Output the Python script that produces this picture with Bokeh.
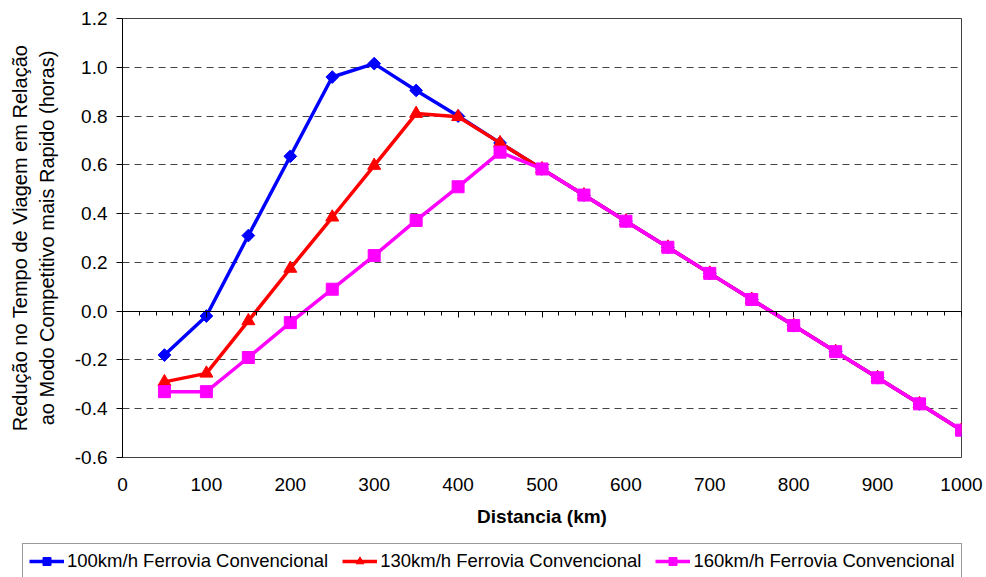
import numpy as np
from bokeh.plotting import figure
from bokeh.models import (Range1d, FixedTicker, LinearAxis, Legend, LegendItem,
                          PrintfTickFormatter, CustomJSTickFormatter)
from bokeh.embed import file_html
from bokeh.resources import INLINE

# ---------------- data ----------------
distance_km = [50, 100, 150, 200, 250, 300, 350, 400, 450, 500,
               550, 600, 650, 700, 750, 800, 850, 900, 950, 1000]

conv_100 = [-0.18, -0.02, 0.31, 0.635, 0.96, 1.015, 0.905, 0.80, 0.69, 0.583,
            0.476, 0.369, 0.262, 0.155, 0.048, -0.059, -0.166, -0.273, -0.38, -0.488]
conv_130 = [-0.29, -0.255, -0.04, 0.175, 0.385, 0.597, 0.81, 0.797, 0.69, 0.583,
            0.476, 0.369, 0.262, 0.155, 0.048, -0.059, -0.166, -0.273, -0.38, -0.488]
conv_160 = [-0.33, -0.33, -0.19, -0.047, 0.09, 0.228, 0.372, 0.51, 0.652, 0.583,
            0.476, 0.369, 0.262, 0.155, 0.048, -0.059, -0.166, -0.273, -0.38, -0.488]

series_names = ["100km/h Ferrovia Convencional",
                "130km/h Ferrovia Convencional",
                "160km/h Ferrovia Convencional"]

x_ticks = [0, 100, 200, 300, 400, 500, 600, 700, 800, 900, 1000]
x_minor_ticks = list(range(0, 1001, 20))
y_ticks = [-0.6, -0.4, -0.2, 0.0, 0.2, 0.4, 0.6, 0.8, 1.0, 1.2]

FONT = "Liberation Sans"
colors = ["#0000FF", "#FF0000", "#FF00FF"]

p = figure(frame_width=839, frame_height=439, output_backend="svg", toolbar_location=None,
           x_range=Range1d(0, 1000), y_range=Range1d(-0.6, 1.2),
           min_border_left=122, min_border_right=25, min_border_top=18,
           min_border_bottom=84, background_fill_color="white",
           border_fill_color="white")

p.outline_line_color = "#404040"
p.outline_line_width = 1
p.xgrid.visible = False
p.ygrid.ticker = FixedTicker(ticks=y_ticks)
p.ygrid.grid_line_color = "#444444"
p.ygrid.grid_line_dash = "7 5"
p.ygrid.grid_line_width = 1

# y axis
ya = p.yaxis[0]
ya.ticker = FixedTicker(ticks=y_ticks)
ya.formatter = PrintfTickFormatter(format="%.1f")
ya.axis_line_color = "black"
ya.major_tick_line_color = "black"
ya.major_tick_out = 6
ya.major_tick_in = 0
ya.minor_tick_line_color = None
ya.major_label_standoff = 9
ya.major_label_text_font = FONT
ya.major_label_text_font_size = "19px"
ya.major_label_text_color = "black"
ya.axis_label = "Redução no Tempo de Viagem em Relação\nao Modo Competitivo mais Rapido (horas)"
ya.axis_label_text_font = FONT
ya.axis_label_text_font_size = "20px"
ya.axis_label_text_font_style = "normal"
ya.axis_label_text_color = "black"
ya.axis_label_standoff = 14

# x axis (labels only, at bottom)
xa = p.xaxis[0]
xa.ticker = FixedTicker(ticks=x_ticks)
xa.axis_line_color = None
xa.major_tick_line_color = None
xa.minor_tick_line_color = None
xa.major_tick_out = 0
xa.major_tick_in = 0
xa.major_label_standoff = 20
xa.major_label_text_font = FONT
xa.major_label_text_font_size = "19px"
xa.major_label_text_color = "black"
xa.axis_label = "Distancia (km)"
xa.axis_label_text_font = FONT
xa.axis_label_text_font_size = "19px"
xa.axis_label_text_font_style = "bold"
xa.axis_label_text_color = "black"
xa.axis_label_standoff = 12

# axis line with ticks at y = 0
zero_axis = LinearAxis(fixed_location=0,
                       ticker=FixedTicker(ticks=x_ticks, minor_ticks=x_minor_ticks),
                       formatter=CustomJSTickFormatter(code="return ''"),
                       axis_line_color="black", axis_line_width=1,
                       major_tick_line_color="black", major_tick_in=6, major_tick_out=0,
                       minor_tick_line_color="black", minor_tick_in=4, minor_tick_out=0,
                       major_label_standoff=0)
p.add_layout(zero_axis, "above")

# series
series = [conv_100, conv_130, conv_160]
markers = [dict(marker="square", angle=np.pi / 4, size=9),
           dict(marker="triangle", size=13),
           dict(marker="square", size=12)]

for vals, col, mk in zip(series, colors, markers):
    p.line(distance_km, vals, line_color=col, line_width=3.5)
    p.scatter(distance_km, vals, fill_color=col, line_color=col, **mk)

# legend strip (separate root below the chart); its ranges keep the
# series themselves out of view so that only the legend shows
pl = figure(width=986, height=36, output_backend="svg", toolbar_location=None,
            x_range=Range1d(2000, 3000), y_range=Range1d(5, 6),
            x_axis_type=None, y_axis_type=None,
            min_border_left=0, min_border_right=0, min_border_top=0, min_border_bottom=0,
            outline_line_color=None, background_fill_color="white",
            border_fill_color="white")
pl.xgrid.visible = False
pl.ygrid.visible = False

items = []
for name, vals, col, mk in zip(series_names, series, colors, markers):
    lr = pl.line(distance_km, vals, line_color=col, line_width=3.5)
    sr = pl.scatter(distance_km, vals, fill_color=col, line_color=col, **mk)
    items.append(LegendItem(label=name, renderers=[lr, sr]))

legend = Legend(items=items, orientation="horizontal", location=(22, -2),
                label_text_font=FONT, label_text_font_size="18.5px",
                label_text_color="black", glyph_width=35, glyph_height=20,
                label_standoff=3, spacing=14, padding=6, margin=0,
                border_line_color="#333333", border_line_width=1,
                background_fill_color="white")
pl.add_layout(legend, "center")

open("out.html", "w").write(file_html([p, pl], INLINE))
